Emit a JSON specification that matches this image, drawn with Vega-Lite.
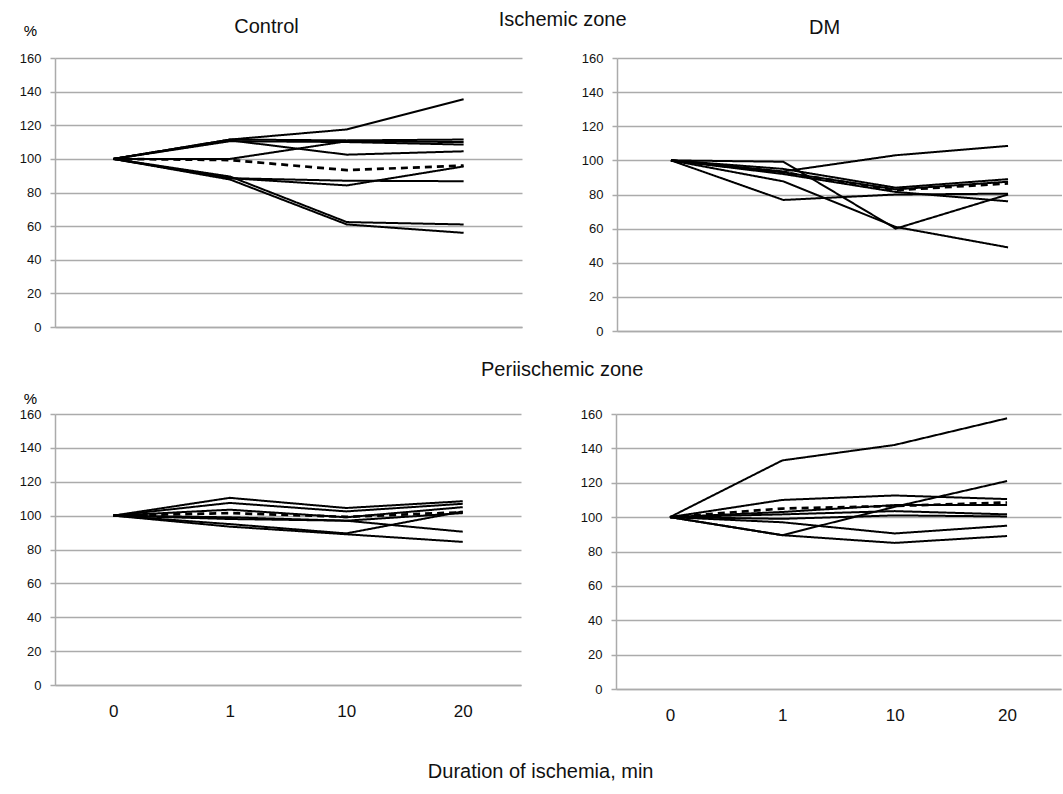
{
  "$schema": "https://vega.github.io/schema/vega-lite/v6.json",
  "background": "white",
  "padding": {"left": 19, "top": 10, "right": 0, "bottom": 0},
  "config": {
    "font": "Liberation Sans",
    "view": {"stroke": null},
    "title": {"font": "Liberation Sans", "fontSize": 20, "fontWeight": "normal", "color": "#111"},
    "axis": {"labelFont": "Liberation Sans", "labelColor": "#111", "gridColor": "#ababab", "gridWidth": 1.5, "domainColor": "#ababab", "domainWidth": 1.5, "tickColor": "#ababab", "tickWidth": 1.5}
  },
  "datasets": {
    "d": [
      {"p":"IC","s":"A","k":"ind","t":"0","v":100},{"p":"IC","s":"A","k":"ind","t":"1","v":111.5},{"p":"IC","s":"A","k":"ind","t":"10","v":117.5},{"p":"IC","s":"A","k":"ind","t":"20","v":135.5},
      {"p":"IC","s":"B","k":"ind","t":"0","v":100},{"p":"IC","s":"B","k":"ind","t":"1","v":111.5},{"p":"IC","s":"B","k":"ind","t":"10","v":111},{"p":"IC","s":"B","k":"ind","t":"20","v":111.5},
      {"p":"IC","s":"C","k":"ind","t":"0","v":100},{"p":"IC","s":"C","k":"ind","t":"1","v":110.5},{"p":"IC","s":"C","k":"ind","t":"10","v":110},{"p":"IC","s":"C","k":"ind","t":"20","v":108.5},
      {"p":"IC","s":"D","k":"ind","t":"0","v":100},{"p":"IC","s":"D","k":"ind","t":"1","v":100},{"p":"IC","s":"D","k":"ind","t":"10","v":110.5},{"p":"IC","s":"D","k":"ind","t":"20","v":110},
      {"p":"IC","s":"E","k":"ind","t":"0","v":100},{"p":"IC","s":"E","k":"ind","t":"1","v":111},{"p":"IC","s":"E","k":"ind","t":"10","v":102.5},{"p":"IC","s":"E","k":"ind","t":"20","v":104.5},
      {"p":"IC","s":"F","k":"ind","t":"0","v":100},{"p":"IC","s":"F","k":"ind","t":"1","v":88.5},{"p":"IC","s":"F","k":"ind","t":"10","v":87},{"p":"IC","s":"F","k":"ind","t":"20","v":86.7},
      {"p":"IC","s":"G","k":"ind","t":"0","v":100},{"p":"IC","s":"G","k":"ind","t":"1","v":88.5},{"p":"IC","s":"G","k":"ind","t":"10","v":84.2},{"p":"IC","s":"G","k":"ind","t":"20","v":95.5},
      {"p":"IC","s":"H","k":"ind","t":"0","v":100},{"p":"IC","s":"H","k":"ind","t":"1","v":89.5},{"p":"IC","s":"H","k":"ind","t":"10","v":62.4},{"p":"IC","s":"H","k":"ind","t":"20","v":61},
      {"p":"IC","s":"I","k":"ind","t":"0","v":100},{"p":"IC","s":"I","k":"ind","t":"1","v":87.7},{"p":"IC","s":"I","k":"ind","t":"10","v":61},{"p":"IC","s":"I","k":"ind","t":"20","v":56},
      {"p":"IC","s":"M","k":"mean","t":"0","v":100},{"p":"IC","s":"M","k":"mean","t":"1","v":99.3},{"p":"IC","s":"M","k":"mean","t":"10","v":93.3},{"p":"IC","s":"M","k":"mean","t":"20","v":96},

      {"p":"ID","s":"P","k":"ind","t":"0","v":100},{"p":"ID","s":"P","k":"ind","t":"1","v":99.2},{"p":"ID","s":"P","k":"ind","t":"10","v":60},{"p":"ID","s":"P","k":"ind","t":"20","v":80},
      {"p":"ID","s":"Q","k":"ind","t":"0","v":100},{"p":"ID","s":"Q","k":"ind","t":"1","v":87.7},{"p":"ID","s":"Q","k":"ind","t":"10","v":61},{"p":"ID","s":"Q","k":"ind","t":"20","v":49},
      {"p":"ID","s":"R","k":"ind","t":"0","v":100},{"p":"ID","s":"R","k":"ind","t":"1","v":76.8},{"p":"ID","s":"R","k":"ind","t":"10","v":80},{"p":"ID","s":"R","k":"ind","t":"20","v":80.5},
      {"p":"ID","s":"S","k":"ind","t":"0","v":100},{"p":"ID","s":"S","k":"ind","t":"1","v":93.5},{"p":"ID","s":"S","k":"ind","t":"10","v":103},{"p":"ID","s":"S","k":"ind","t":"20","v":108.5},
      {"p":"ID","s":"T","k":"ind","t":"0","v":100},{"p":"ID","s":"T","k":"ind","t":"1","v":95},{"p":"ID","s":"T","k":"ind","t":"10","v":84},{"p":"ID","s":"T","k":"ind","t":"20","v":89},
      {"p":"ID","s":"U","k":"ind","t":"0","v":100},{"p":"ID","s":"U","k":"ind","t":"1","v":93},{"p":"ID","s":"U","k":"ind","t":"10","v":83},{"p":"ID","s":"U","k":"ind","t":"20","v":87.5},
      {"p":"ID","s":"V","k":"ind","t":"0","v":100},{"p":"ID","s":"V","k":"ind","t":"1","v":92},{"p":"ID","s":"V","k":"ind","t":"10","v":81.5},{"p":"ID","s":"V","k":"ind","t":"20","v":76},
      {"p":"ID","s":"M","k":"mean","t":"0","v":100},{"p":"ID","s":"M","k":"mean","t":"1","v":93},{"p":"ID","s":"M","k":"mean","t":"10","v":82.5},{"p":"ID","s":"M","k":"mean","t":"20","v":86.5},

      {"p":"PC","s":"a","k":"ind","t":"0","v":100},{"p":"PC","s":"a","k":"ind","t":"1","v":110.5},{"p":"PC","s":"a","k":"ind","t":"10","v":104.5},{"p":"PC","s":"a","k":"ind","t":"20","v":108.5},
      {"p":"PC","s":"b","k":"ind","t":"0","v":100},{"p":"PC","s":"b","k":"ind","t":"1","v":107.5},{"p":"PC","s":"b","k":"ind","t":"10","v":102.5},{"p":"PC","s":"b","k":"ind","t":"20","v":107},
      {"p":"PC","s":"c","k":"ind","t":"0","v":100},{"p":"PC","s":"c","k":"ind","t":"1","v":103.5},{"p":"PC","s":"c","k":"ind","t":"10","v":99},{"p":"PC","s":"c","k":"ind","t":"20","v":105},
      {"p":"PC","s":"d","k":"ind","t":"0","v":100},{"p":"PC","s":"d","k":"ind","t":"1","v":98},{"p":"PC","s":"d","k":"ind","t":"10","v":97},{"p":"PC","s":"d","k":"ind","t":"20","v":101.5},
      {"p":"PC","s":"e","k":"ind","t":"0","v":100},{"p":"PC","s":"e","k":"ind","t":"1","v":95},{"p":"PC","s":"e","k":"ind","t":"10","v":89.5},{"p":"PC","s":"e","k":"ind","t":"20","v":102.5},
      {"p":"PC","s":"f","k":"ind","t":"0","v":100},{"p":"PC","s":"f","k":"ind","t":"1","v":99},{"p":"PC","s":"f","k":"ind","t":"10","v":97},{"p":"PC","s":"f","k":"ind","t":"20","v":90.5},
      {"p":"PC","s":"g","k":"ind","t":"0","v":100},{"p":"PC","s":"g","k":"ind","t":"1","v":93.5},{"p":"PC","s":"g","k":"ind","t":"10","v":89},{"p":"PC","s":"g","k":"ind","t":"20","v":84.5},
      {"p":"PC","s":"M","k":"mean","t":"0","v":100},{"p":"PC","s":"M","k":"mean","t":"1","v":101.5},{"p":"PC","s":"M","k":"mean","t":"10","v":99.3},{"p":"PC","s":"M","k":"mean","t":"20","v":102},

      {"p":"PD","s":"1","k":"ind","t":"0","v":100},{"p":"PD","s":"1","k":"ind","t":"1","v":133},{"p":"PD","s":"1","k":"ind","t":"10","v":142},{"p":"PD","s":"1","k":"ind","t":"20","v":157.5},
      {"p":"PD","s":"2","k":"ind","t":"0","v":100},{"p":"PD","s":"2","k":"ind","t":"1","v":89.5},{"p":"PD","s":"2","k":"ind","t":"10","v":106},{"p":"PD","s":"2","k":"ind","t":"20","v":121},
      {"p":"PD","s":"3","k":"ind","t":"0","v":100},{"p":"PD","s":"3","k":"ind","t":"1","v":110},{"p":"PD","s":"3","k":"ind","t":"10","v":112.6},{"p":"PD","s":"3","k":"ind","t":"20","v":110.5},
      {"p":"PD","s":"4","k":"ind","t":"0","v":100},{"p":"PD","s":"4","k":"ind","t":"1","v":103},{"p":"PD","s":"4","k":"ind","t":"10","v":107},{"p":"PD","s":"4","k":"ind","t":"20","v":107},
      {"p":"PD","s":"5","k":"ind","t":"0","v":100},{"p":"PD","s":"5","k":"ind","t":"1","v":101.6},{"p":"PD","s":"5","k":"ind","t":"10","v":103.5},{"p":"PD","s":"5","k":"ind","t":"20","v":101.6},
      {"p":"PD","s":"6","k":"ind","t":"0","v":100},{"p":"PD","s":"6","k":"ind","t":"1","v":99},{"p":"PD","s":"6","k":"ind","t":"10","v":101},{"p":"PD","s":"6","k":"ind","t":"20","v":100.4},
      {"p":"PD","s":"7","k":"ind","t":"0","v":100},{"p":"PD","s":"7","k":"ind","t":"1","v":97},{"p":"PD","s":"7","k":"ind","t":"10","v":90.5},{"p":"PD","s":"7","k":"ind","t":"20","v":95},
      {"p":"PD","s":"8","k":"ind","t":"0","v":100},{"p":"PD","s":"8","k":"ind","t":"1","v":89.5},{"p":"PD","s":"8","k":"ind","t":"10","v":85},{"p":"PD","s":"8","k":"ind","t":"20","v":89},
      {"p":"PD","s":"M","k":"mean","t":"0","v":100},{"p":"PD","s":"M","k":"mean","t":"1","v":105},{"p":"PD","s":"M","k":"mean","t":"10","v":106.5},{"p":"PD","s":"M","k":"mean","t":"20","v":108.5}
    ]
  },
  "title": {"text": "Duration of ischemia, min", "orient": "bottom", "anchor": "middle", "offset": 39, "fontSize": 20},
  "spacing": 22,
  "vconcat": [
    {
      "title": {"text": "Ischemic zone", "anchor": "middle", "fontSize": 20, "offset": -13, "dx": 22},
      "spacing": 59,
      "hconcat": [
        {
          "title": {"text": "Control", "fontSize": 20, "dx": -22, "offset": -14},
          "width": 467, "height": 269,
          "data": {"name": "d"},
          "transform": [{"filter": "datum.p == 'IC'"}],
          "mark": {"type": "line", "color": "black", "strokeJoin": "miter"},
          "encoding": {
            "x": {"field": "t", "type": "ordinal", "sort": ["0","1","10","20"], "scale": {"type": "point", "padding": 0.5}, "axis": {"labels": false, "ticks": false, "title": null}},
            "y": {"field": "v", "type": "quantitative", "scale": {"domain": [0, 160]}, "axis": {"values": [0,20,40,60,80,100,120,140,160], "labelFontSize": 13, "tickSize": 5, "labelPadding": 9, "title": "%", "titleAngle": 0, "titleFontSize": 15, "titleFontWeight": "normal", "titleX": -25, "titleY": -20, "titleAlign": "center", "titleBaseline": "bottom"}},
            "detail": {"field": "s"},
            "strokeDash": {"field": "k", "type": "nominal", "scale": {"domain": ["ind","mean"], "range": [[1,0],[7,5]]}, "legend": null},
            "strokeWidth": {"field": "k", "type": "nominal", "scale": {"domain": ["ind","mean"], "range": [2, 2.7]}, "legend": null}
          }
        },
        {
          "title": {"text": "DM", "fontSize": 20, "dx": -15, "offset": 14},
          "width": 445, "height": 273,
          "data": {"name": "d"},
          "transform": [{"filter": "datum.p == 'ID'"}],
          "mark": {"type": "line", "color": "black", "strokeJoin": "miter"},
          "encoding": {
            "x": {"field": "t", "type": "ordinal", "sort": ["0","1","10","20"], "scale": {"type": "point", "padding": 0.48}, "axis": {"labels": false, "ticks": false, "title": null}},
            "y": {"field": "v", "type": "quantitative", "scale": {"domain": [0, 160]}, "axis": {"values": [0,20,40,60,80,100,120,140,160], "labelFontSize": 13, "tickSize": 5, "labelPadding": 9, "title": null}},
            "detail": {"field": "s"},
            "strokeDash": {"field": "k", "type": "nominal", "scale": {"domain": ["ind","mean"], "range": [[1,0],[7,5]]}, "legend": null},
            "strokeWidth": {"field": "k", "type": "nominal", "scale": {"domain": ["ind","mean"], "range": [2, 2.7]}, "legend": null}
          }
        }
      ]
    },
    {
      "title": {"text": "Periischemic zone", "anchor": "middle", "fontSize": 20, "offset": 11, "dx": 22},
      "spacing": 59,
      "hconcat": [
        {
          "width": 466, "height": 271,
          "data": {"name": "d"},
          "transform": [{"filter": "datum.p == 'PC'"}],
          "mark": {"type": "line", "color": "black", "strokeJoin": "miter"},
          "encoding": {
            "x": {"field": "t", "type": "ordinal", "sort": ["0","1","10","20"], "scale": {"type": "point", "padding": 0.5}, "axis": {"labelFontSize": 17, "labelAngle": 0, "ticks": false, "labelPadding": 18, "title": null}},
            "y": {"field": "v", "type": "quantitative", "scale": {"domain": [0, 160]}, "axis": {"values": [0,20,40,60,80,100,120,140,160], "labelFontSize": 13, "tickSize": 5, "labelPadding": 9, "title": "%", "titleAngle": 0, "titleFontSize": 15, "titleFontWeight": "normal", "titleX": -25, "titleY": -8, "titleAlign": "center", "titleBaseline": "bottom"}},
            "detail": {"field": "s"},
            "strokeDash": {"field": "k", "type": "nominal", "scale": {"domain": ["ind","mean"], "range": [[1,0],[7,5]]}, "legend": null},
            "strokeWidth": {"field": "k", "type": "nominal", "scale": {"domain": ["ind","mean"], "range": [2, 2.7]}, "legend": null}
          }
        },
        {
          "width": 445, "height": 275,
          "data": {"name": "d"},
          "transform": [{"filter": "datum.p == 'PD'"}],
          "mark": {"type": "line", "color": "black", "strokeJoin": "miter"},
          "encoding": {
            "x": {"field": "t", "type": "ordinal", "sort": ["0","1","10","20"], "scale": {"type": "point", "padding": 0.48}, "axis": {"labelFontSize": 17, "labelAngle": 0, "ticks": false, "labelPadding": 18, "title": null}},
            "y": {"field": "v", "type": "quantitative", "scale": {"domain": [0, 160]}, "axis": {"values": [0,20,40,60,80,100,120,140,160], "labelFontSize": 13, "tickSize": 5, "labelPadding": 9, "title": null}},
            "detail": {"field": "s"},
            "strokeDash": {"field": "k", "type": "nominal", "scale": {"domain": ["ind","mean"], "range": [[1,0],[7,5]]}, "legend": null},
            "strokeWidth": {"field": "k", "type": "nominal", "scale": {"domain": ["ind","mean"], "range": [2, 2.7]}, "legend": null}
          }
        }
      ]
    }
  ]
}
